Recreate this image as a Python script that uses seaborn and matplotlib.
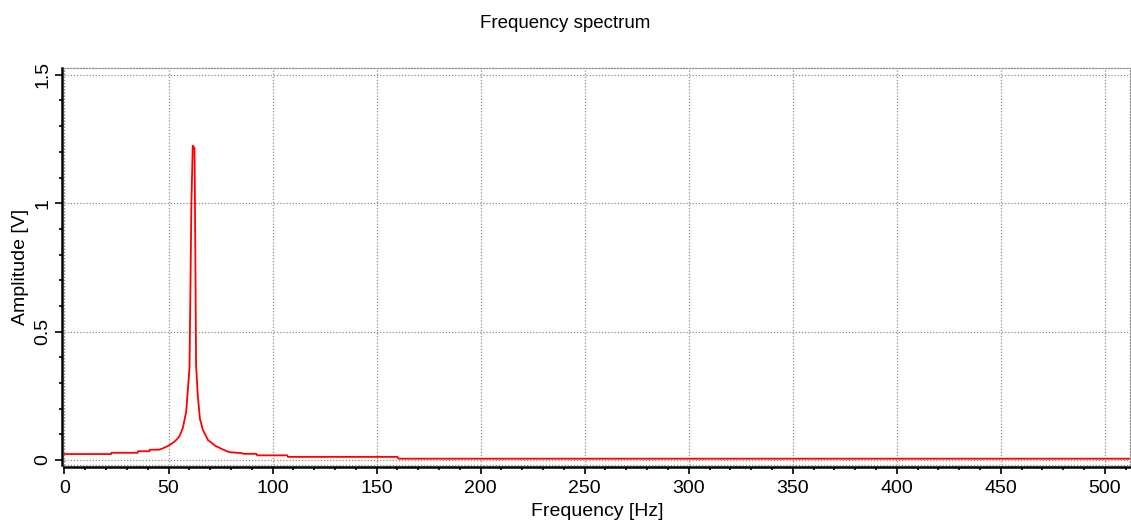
import matplotlib
matplotlib.use("Agg")
import matplotlib.pyplot as plt
from matplotlib.lines import Line2D
from matplotlib.ticker import MultipleLocator, FormatStrFormatter
import seaborn as sns
import pandas as pd

# spectrum (Hz, V)
freq_hz = [0, 22.4, 22.6, 35.2, 35.4, 40.8, 41.0, 45.5, 47.5, 49.6, 52.0, 53.5,
           55.3, 56.9, 58.5, 60.1, 61.0, 61.65, 62.5, 62.85, 63.25, 64.0, 64.4,
           65.1, 65.7, 66.5, 67.3, 68.9, 70.5, 72.5, 75.3, 77.4, 79.5, 85.0, 86.0,
           92.2, 92.6, 107.0, 107.4, 160.0, 160.4, 512]
amp_v = [0.023, 0.023, 0.028, 0.028, 0.034, 0.034, 0.040, 0.040, 0.046, 0.054, 0.066, 0.076,
         0.093, 0.125, 0.188, 0.36, 1.0, 1.224, 1.215, 0.85, 0.37, 0.26, 0.222,
         0.16, 0.143, 0.117, 0.105, 0.078, 0.068, 0.055, 0.044, 0.036, 0.030, 0.027, 0.024,
         0.024, 0.018, 0.018, 0.012, 0.012, 0.005, 0.005]

df = pd.DataFrame({"Frequency [Hz]": freq_hz, "Amplitude [V]": amp_v})

sns.set_style("white")
plt.rcParams["font.family"] = ["Liberation Sans", "DejaVu Sans"]
plt.rcParams.update({"text.color": "black", "axes.labelcolor": "black",
                     "xtick.color": "black", "ytick.color": "black"})

fig = plt.figure(figsize=(11.31, 5.22), dpi=100)
ax = fig.add_axes([0.057, 0.109, 0.942, 0.760])

sns.lineplot(data=df, x="Frequency [Hz]", y="Amplitude [V]", color="#ff0000",
             linewidth=1.3, ax=ax, sort=False)

ax.set_xlim(0, 512)
ax.set_ylim(-0.02, 1.525)

ax.xaxis.set_major_locator(MultipleLocator(50))
ax.xaxis.set_minor_locator(MultipleLocator(10))
ax.yaxis.set_major_locator(MultipleLocator(0.5))
ax.yaxis.set_minor_locator(MultipleLocator(0.1))
ax.yaxis.set_major_formatter(FormatStrFormatter("%g"))

ax.grid(True, which="major", color="#8c8c8c", linestyle=(0, (1, 1.5)), linewidth=0.9)

# frame: dotted grey on top/right, thick black axis lines on left/bottom
for side in ("top", "right"):
    ax.spines[side].set_color("#8c8c8c")
    ax.spines[side].set_linestyle((0, (1, 1.5)))
    ax.spines[side].set_linewidth(0.9)
for side in ("left", "bottom"):
    ax.spines[side].set_color("black")
    ax.spines[side].set_linewidth(1.8)
    ax.spines[side].set_position(("outward", 1.5))
for xs, ys in (([0, 0], [0, 1]), ([0, 1], [0, 0])):
    ax.add_line(Line2D(xs, ys, transform=ax.transAxes, color="#8c8c8c",
                       linestyle=(0, (1, 1.5)), linewidth=0.9, clip_on=False))

ax.tick_params(which="major", direction="out", length=5, width=1.2, color="black",
               bottom=True, left=True, labelsize=14, pad=3)
ax.tick_params(axis="x", which="major", pad=4.5)
ax.tick_params(which="minor", direction="out", length=2.5, width=1.2, color="black",
               bottom=True, left=True)
plt.setp(ax.get_yticklabels(), rotation=90, va="center")

ax.set_xlabel("Frequency [Hz]", fontsize=14, labelpad=4)
ax.set_ylabel("Amplitude [V]", fontsize=14, labelpad=4)
fig.suptitle("Frequency spectrum", fontsize=13.5, y=0.972, va="top")

fig.savefig("out.png", dpi=100)
